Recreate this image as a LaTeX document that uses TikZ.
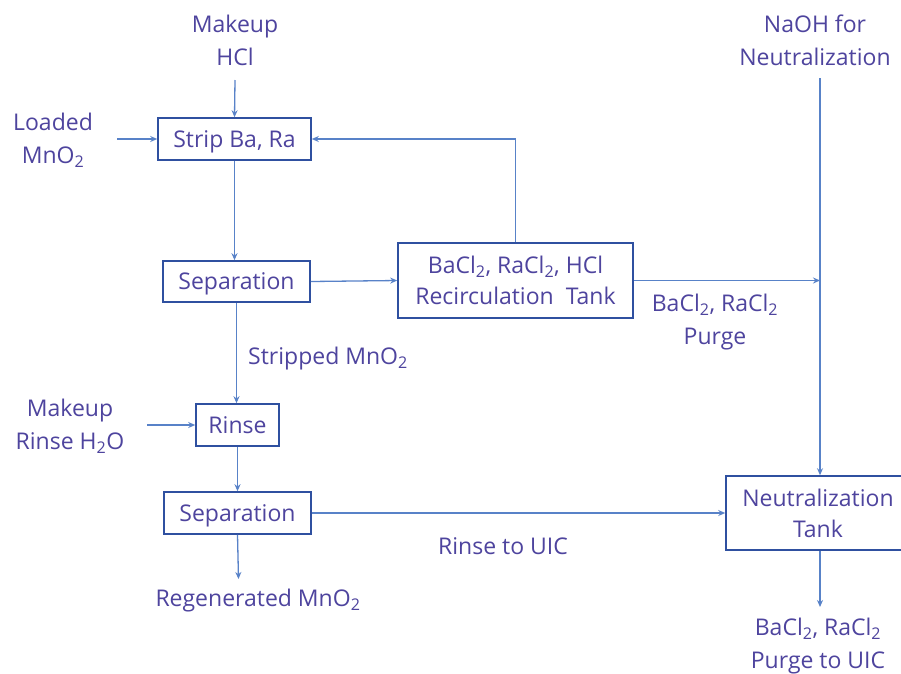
\documentclass[tikz,border=0pt]{standalone}
\usepackage{fontspec}
\setmainfont{Open Sans}
\usetikzlibrary{arrows.meta}
\definecolor{txt}{RGB}{78,68,158}
\definecolor{boxc}{RGB}{47,80,160}
\definecolor{linec}{RGB}{88,130,200}
\tikzset{
  lbl/.style={text=txt,align=center,inner sep=0pt,font=\fontsize{23}{33}\selectfont},
  procbox/.style={draw=boxc,line width=1.6pt,text=txt,align=center,inner sep=0pt,font=\fontsize{23}{31}\selectfont},
  oneline/.style={text height=18pt,text depth=2pt},
  arr/.style={draw=linec,line width=1.3pt,-{Stealth[length=7pt,width=6pt]}},
}
\newcommand{\sub}[1]{\textsubscript{#1}}
\begin{document}
\begin{tikzpicture}[x=1pt,y=-1pt]
\useasboundingbox[fill=white] (0,0) rectangle (901,673);
% boxes
\node[procbox,oneline,minimum width=153pt,minimum height=42pt] (strip) at (234.5,139) {Strip Ba, Ra};
\node[procbox,oneline,minimum width=147pt,minimum height=41pt] (sep1) at (236.5,281.5) {Separation};
\node[procbox,minimum width=235pt,minimum height=75pt] (recirc) at (515.5,280.5) {BaCl\sub{2}, RaCl\sub{2}, HCl\\Recirculation~ Tank};
\node[procbox,oneline,minimum width=83pt,minimum height=42pt] (rinse) at (237.5,425) {Rinse};
\node[procbox,oneline,minimum width=147pt,minimum height=42pt] (sep2) at (237.5,513) {Separation};
\node[procbox,minimum width=176pt,minimum height=74pt] (neut) at (814,513) {\hspace*{8pt}Neutralization\\\hspace*{8pt}Tank};
% labels
\node[lbl] (mhcl) at (235,40) {Makeup\\HCl};
\node[lbl] (loaded) at (53,140) {Loaded\\MnO\sub{2}};
\node[lbl] (naoh) at (815,40) {NaOH for\\Neutralization};
\node[lbl] (purge) at (715,322) {BaCl\sub{2}, RaCl\sub{2}\\Purge};
\node[lbl,anchor=west] (stripped) at (248,359) {Stripped MnO\sub{2}};
\node[lbl] (mrinse) at (70,426) {Makeup\\Rinse H\sub{2}O};
\node[lbl] (rinseuic) at (503,546) {Rinse to UIC};
\node[lbl] (regen) at (258,601) {Regenerated MnO\sub{2}};
\node[lbl] (purgeuic) at (818,646) {BaCl\sub{2}, RaCl\sub{2}\\Purge to UIC};
% free ends
\coordinate (hclin) at (235,80);
\coordinate (loadin) at (117,139);
\coordinate (naohin) at (820,78);
\coordinate (junc) at (820,280.5);
\coordinate (rinsein) at (147,425);
\coordinate (regout) at (238.5,579);
\coordinate (purgeout) at (820,607);
% connectors
\draw[arr] (hclin) -- (strip.north);
\draw[arr] (loadin) -- (strip.west);
\draw[arr] (recirc.north) |- (strip.east);
\draw[arr] (strip.south) -- (sep1.north -| strip.south);
\draw[arr] (sep1.east) -- (recirc.west);
\draw[arr] (recirc.east) -- (junc);
\draw[arr] (naohin) -- (naohin |- neut.north);
\draw[arr] (sep1.south) -- (rinse.north -| sep1.south);
\draw[arr] (rinsein) -- (rinse.west);
\draw[arr] (rinse.south) -- (sep2.north);
\draw[arr] (sep2.east) -- (neut.west |- sep2.east);
\draw[arr] (sep2.south) -- (regout);
\draw[arr] (neut.south -| purgeout) -- (purgeout);
\end{tikzpicture}
\end{document}
